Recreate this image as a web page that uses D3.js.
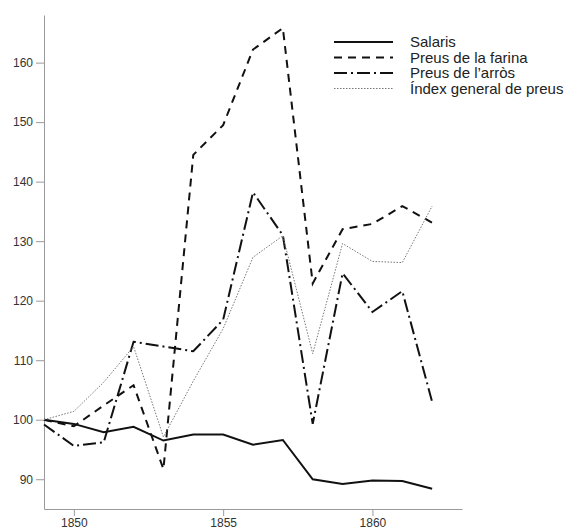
<!DOCTYPE html>
<html>
<head>
<meta charset="utf-8">
<script src="https://cdn.jsdelivr.net/npm/d3@7"></script>
<style>
  body { margin: 0; background: #fff; }
  text { font-family: "Liberation Sans", Arial, sans-serif; }
</style>
</head>
<body>
<div id="my_dataviz"></div>
<script>
// data
var years = [1849, 1850, 1851, 1852, 1853, 1854, 1855, 1856, 1857, 1858, 1859, 1860, 1861, 1862];
var salaris = [100, 99.3, 97.9, 98.8, 96.5, 97.5, 97.5, 95.8, 96.6, 90.0, 89.2, 89.8, 89.7, 88.4];
var farina  = [100, 98.9, 102.4, 105.8, 91.7, 144.5, 149.5, 162.2, 165.8, 122.9, 132.0, 132.9, 135.9, 133.1];
var arros   = [99.2, 95.6, 96.2, 113.1, 112.3, 111.5, 116.8, 138.2, 131.0, 99.3, 124.6, 118.1, 121.6, 103.0];
var index   = [100, 101.4, 106.3, 112.3, 97.1, 106.5, 115.3, 127.3, 130.9, 111.1, 129.6, 126.6, 126.4, 135.9];
var seriesNames = ["Salaris", "Preus de la farina", "Preus de l\u2019arròs", "Índex general de preus"];
var xTicks = [1850, 1855, 1860];
var yTicks = [90, 100, 110, 120, 130, 140, 150, 160];

var width = 578,
    height = 528,
    margin = {top: 15, right: 116, bottom: 19, left: 44};

var svg = d3.select("#my_dataviz")
    .append("svg")
    .attr("width", width)
    .attr("height", height);

var x = d3.scaleLinear()
    .domain([1849, 1863])
    .range([margin.left, width - margin.right]);

var y = d3.scaleLinear()
    .domain([85, 168])
    .range([height - margin.bottom, margin.top]);

// axes
var xAxis = svg.append("g")
    .attr("transform", `translate(0,${height - margin.bottom})`)
    .call(d3.axisBottom(x).tickValues(xTicks).tickFormat(d3.format("d")).tickSize(7).tickSizeOuter(0).tickPadding(2));

var yAxis = svg.append("g")
    .attr("transform", `translate(${margin.left},0)`)
    .call(d3.axisLeft(y).tickValues(yTicks).tickSize(8).tickSizeOuter(0).tickPadding(3));

svg.selectAll(".domain, .tick line").attr("stroke", "#9a9a9a");
svg.selectAll(".tick text").attr("fill", "#333").style("font-size", "12px")
    .style("font-family", "'Liberation Sans', Arial, sans-serif");

// line styles
var styles = [
    {data: salaris, color: "#111", w: 2, dash: null},
    {data: farina,  color: "#111", w: 2, dash: "8,6"},
    {data: arros,   color: "#111", w: 2, dash: "13,4,2,4"},
    {data: index,   color: "#777", w: 1, dash: "1.5,1.5"}
];

var line = d3.line()
    .x(function(d, i) { return x(years[i]); })
    .y(function(d) { return y(d); });

styles.forEach(function(s) {
    svg.append("path")
        .datum(s.data)
        .attr("fill", "none")
        .attr("stroke", s.color)
        .attr("stroke-width", s.w)
        .attr("stroke-dasharray", s.dash)
        .attr("stroke-linejoin", "miter")
        .attr("d", line);
});

// legend
var legend = svg.append("g").attr("transform", "translate(334,42)");
styles.forEach(function(s, i) {
    var row = legend.append("g").attr("transform", `translate(0,${i * 15.5})`);
    row.append("line")
        .attr("x1", 0).attr("x2", 59)
        .attr("y1", 0).attr("y2", 0)
        .attr("stroke", s.color)
        .attr("stroke-width", s.w)
        .attr("stroke-dasharray", s.dash);
    row.append("text")
        .attr("x", 76)
        .attr("y", 0)
        .attr("dy", "0.35em")
        .attr("fill", "#222")
        .style("font-size", "15px")
        .text(seriesNames[i]);
});
</script>
</body>
</html>
